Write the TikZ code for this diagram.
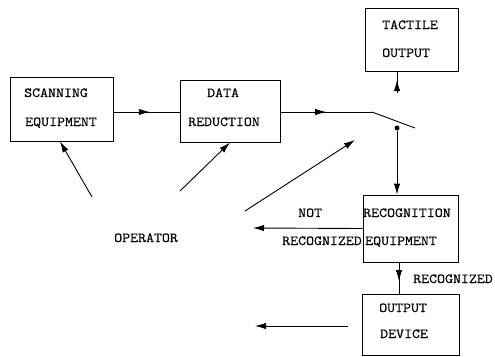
\documentclass[tikz,border=0pt]{standalone}
\usepackage{fontspec}
\newfontfamily\typew{Latin Modern Mono}[FakeStretch=1.12,FakeBold=0.6]
\usetikzlibrary{arrows.meta,decorations.markings}
\begin{document}
\begin{tikzpicture}[x=1pt,y=-1pt,
  box/.style={draw, line width=0.9pt, inner sep=0pt},
  lbl/.style={anchor=base west, inner sep=0pt, font=\typew\fontsize{13.8}{14}\selectfont},
  conn/.style={line width=0.9pt},
  tip/.style={-{Latex[length=11pt,width=6.5pt]}},
  midarrow/.style={postaction={decorate}, decoration={markings, mark=at position #1 with {\arrow{Latex[length=11pt,width=6.5pt]}}}},
  midarrow/.default=0.5
]
\useasboundingbox (0,0) rectangle (495,356);

% boxes
\node[box, minimum width=103pt, minimum height=64pt] (scan) at (61.5,109) {};
\node[box, minimum width=100pt, minimum height=62pt] (data) at (230,111) {};
\node[box, minimum width=93pt, minimum height=63pt] (tact) at (411.5,39.5) {};
\node[box, minimum width=95pt, minimum height=67pt] (recog) at (410.5,228.5) {};
\node[box, minimum width=97pt, minimum height=61pt] (outdev) at (410.5,324.5) {};

% texts
\node[lbl] (t1) at (24,97) {SCANNING};
\node[lbl] (t2) at (25,126) {EQUIPMENT};
\node[lbl] (t3) at (207,97) {DATA};
\node[lbl] (t4) at (188,126) {REDUCTION};
\node[lbl] (t5) at (382,29) {TACTILE};
\node[lbl] (t6) at (382,57) {OUTPUT};
\node[lbl] (t7) at (363,217) {RECOGNITION};
\node[lbl] (t8) at (365,245) {EQUIPMENT};
\node[lbl] (t9) at (379,312) {OUTPUT};
\node[lbl] (t10) at (380,338) {DEVICE};
\node[lbl] (t11) at (298,217) {NOT};
\node[lbl] (t12) at (282,245) {RECOGNIZED};
\node[lbl] (t13) at (413,283) {RECOGNIZED};
\node[lbl] (op) at (114,242) {OPERATOR};

% coordinates
\coordinate (pivot) at (372,112);
\coordinate (swend) at (415,128);
\coordinate (tfoot) at (397,93);
\coordinate (nr) at (253,228);
\coordinate (odl) at (255,326);
\coordinate (o1) at (92,197);
\coordinate (o2) at (180,191);
\coordinate (o3) at (245,211);
\coordinate (sw) at (355,140);
\node[circle, fill, inner sep=0pt, minimum size=5pt] (dot) at (397,128) {};

% connectors
\draw[conn, midarrow=0.55] ([yshift=-3pt]scan.east) -- ([yshift=-1pt]data.west);
\draw[conn, midarrow=0.5] ([yshift=-1pt]data.east) -- (pivot);
\draw[conn] (pivot) -- (swend);
\draw[conn, tip] (dot) -- (dot |- recog.north);
\draw[conn, midarrow=0.6] (tfoot) -- (tfoot |- tact.south);
\draw[conn, tip] (recog.west) -- (nr);
\draw[conn, midarrow=0.6] ([xshift=-11.5pt]recog.south) -- ([xshift=-11.5pt]recog.south |- outdev.north);
\draw[conn, tip] ([xshift=-14pt,yshift=-1.5pt]outdev.west) -- (odl);
\draw[conn, tip] (o1) -- ([xshift=-1.5pt]scan.south);
\draw[conn, tip] (o2) -- (data.south);
\draw[conn, tip] (o3) -- (sw);
\end{tikzpicture}
\end{document}
